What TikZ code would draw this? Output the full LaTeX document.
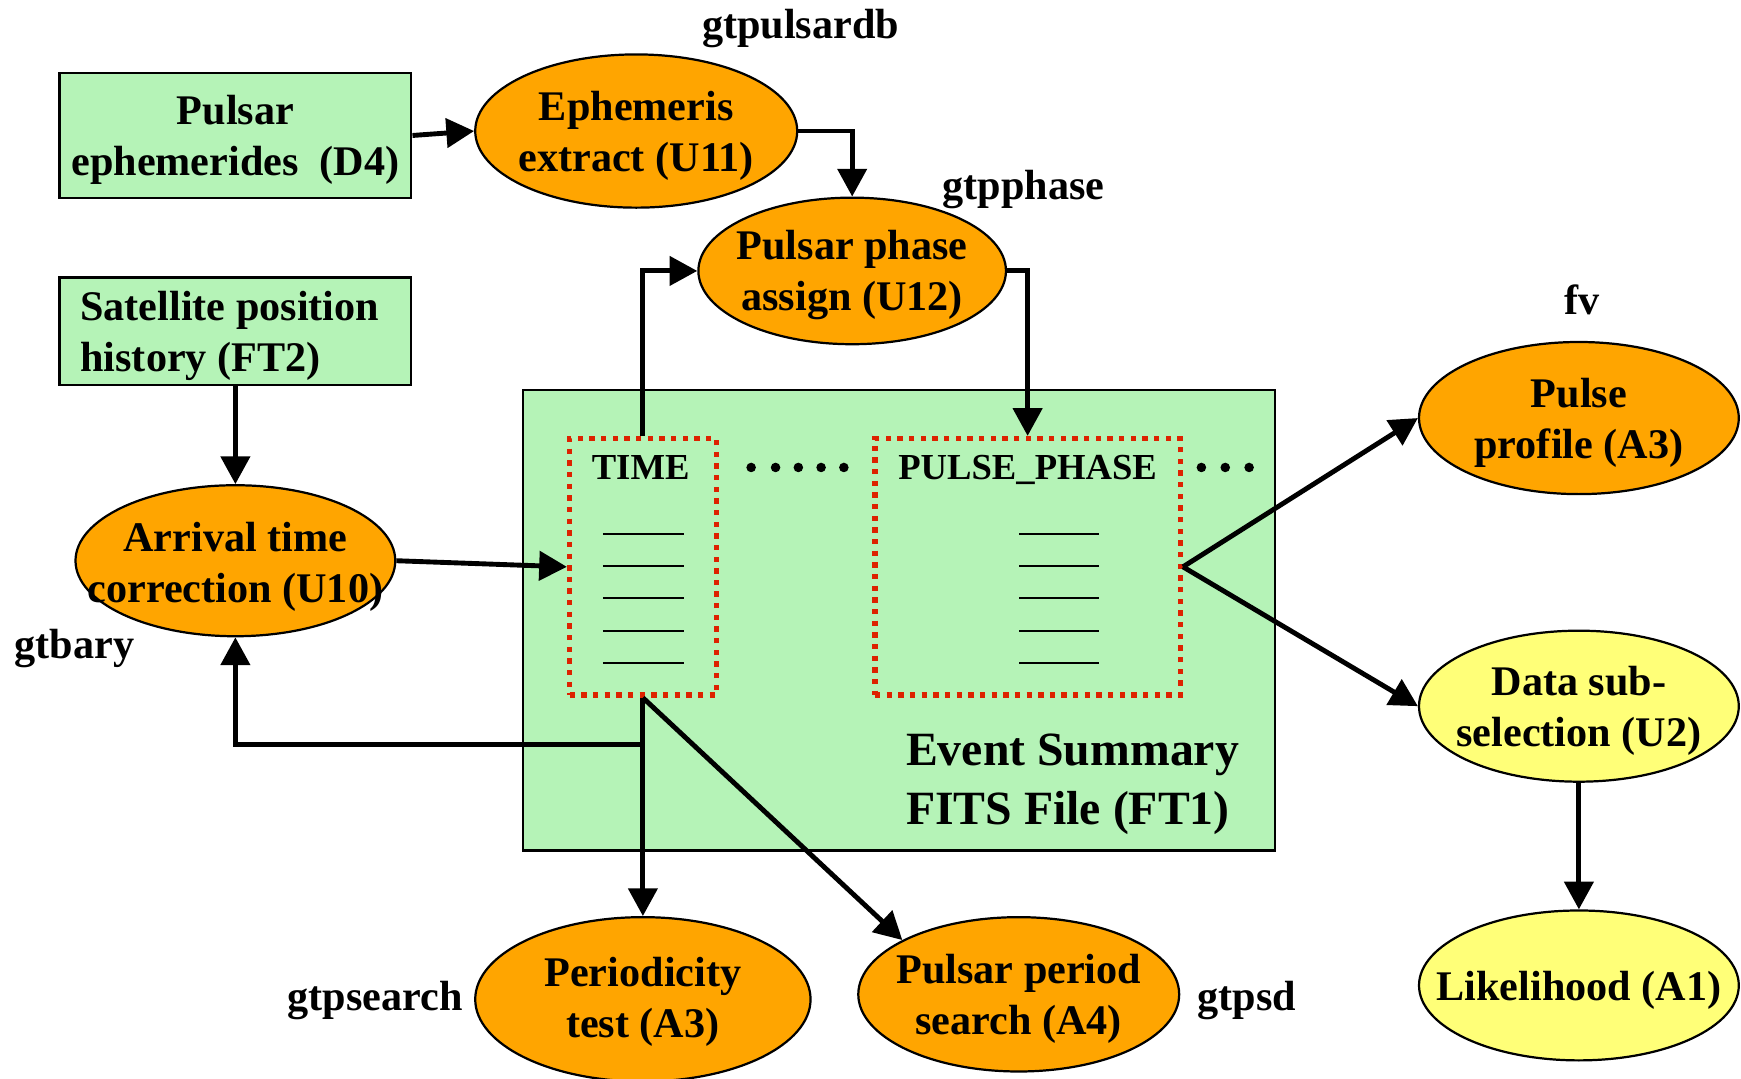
\documentclass[tikz,border=0pt]{standalone}
\usepackage{fontspec}
\setmainfont{Liberation Serif}
\usetikzlibrary{arrows.meta,shapes.geometric}
\definecolor{boxgreen}{RGB}{181,243,183}
\definecolor{ellorange}{RGB}{255,165,0}
\definecolor{ellyellow}{RGB}{255,255,120}
\definecolor{dotred}{RGB}{221,34,0}
\begin{document}
\begin{tikzpicture}[x=0.5pt,y=-0.5pt,
  every node/.style={font=\bfseries\fontsize{19}{23}\selectfont},
  greenbox/.style={draw=black, line width=1pt, fill=boxgreen, rectangle, inner sep=0pt},
  procell/.style={draw=black, line width=1pt, ellipse, inner sep=0pt, fill=ellorange},
  selell/.style={procell, fill=ellyellow},
  lbl/.style={align=center, inner sep=0pt, yshift=-2pt},
  conn/.style={line width=2.2pt, -{Triangle[length=12.5pt,width=13pt]}},
  column/.style={draw=dotred, line width=2.4pt, dash pattern=on 2.4pt off 2.85pt, rectangle, inner sep=0pt},
  rowline/.style={line width=0.9pt},
  tool/.style={inner sep=0pt, yshift=-2pt},
  collbl/.style={inner sep=0pt, anchor=base, font=\bfseries\fontsize{16.5}{20}\selectfont}
]
\useasboundingbox (0,0) rectangle (1568,971);

% boxes
\node[greenbox, minimum width=158.5pt, minimum height=56pt] (ephdb) at (212,122) {};
\node[lbl] (ephdbt) at (ephdb) {Pulsar\\ephemerides\ \ (D4)};
\node[greenbox, minimum width=158.5pt, minimum height=48.5pt] (sat) at (212,298.5) {};
\node[lbl, align=left, anchor=west] (satt) at (72,298.5) {Satellite position\\history (FT2)};
\node[greenbox, minimum width=338.5pt, minimum height=207.5pt] (ft1) at (809.5,558.5) {};

% columns
\node[column, minimum width=66pt, minimum height=115.5pt] (tcol) at (579,510.5) {};
\node[column, minimum width=137.5pt, minimum height=115.5pt] (pcol) at (925.5,510.5) {};
\node[collbl] (tlab) at (577,432) {TIME};
\node[collbl] (plab) at (925.5,432) {PULSE\_PHASE};
\foreach \yy in {481,510,539,568,597} {
  \draw[rowline] (543,\yy) -- (616,\yy);
  \draw[rowline] (918,\yy) -- (990,\yy);
}
\foreach \xx in {676.5,698.5,719,739.5,760} \fill (\xx,421) circle[radius=4.3];
\foreach \xx in {1082,1103.5,1125} \fill (\xx,421) circle[radius=4.3];
\node[lbl, align=left, font=\bfseries\fontsize{21.5}{26.5}\selectfont] (ft1lab) at (966,702) {Event Summary\\FITS File (FT1)};

% ellipses
\node[procell, minimum width=145pt, minimum height=69pt] (ext) at (573,118) {};
\node[lbl] (extt) at (ext) {Ephemeris\\extract (U11)};
\node[procell, minimum width=138.5pt, minimum height=66pt] (pha) at (767.5,244) {};
\node[lbl] (phat) at (pha) {Pulsar phase\\assign (U12)};
\node[procell, minimum width=144pt, minimum height=68pt] (arr) at (212,505) {};
\node[lbl] (arrt) at (212,506.5) {Arrival time\\correction (U10)};
\node[procell, minimum width=151pt, minimum height=74pt] (per) at (579,900) {};
\node[lbl] (pert) at (579,898) {Periodicity\\test (A3)};
\node[procell, minimum width=144.5pt, minimum height=69.5pt] (psd) at (917.5,895.5) {};
\node[lbl] (psdt) at (psd) {Pulsar period\\search (A4)};
\node[procell, minimum width=144pt, minimum height=68.5pt] (prof) at (1422,376.5) {};
\node[lbl] (proft) at (prof) {Pulse\\profile (A3)};
\node[selell, minimum width=144pt, minimum height=68pt] (sub) at (1422,636) {};
\node[lbl] (subt) at (sub) {Data sub-\\selection (U2)};
\node[selell, minimum width=144pt, minimum height=67.5pt] (like) at (1422,887.5) {};
\node[lbl] (liket) at (like) {Likelihood (A1)};

% tool labels
\node[tool] (l1) at (721,22) {gtpulsardb};
\node[tool] (l2) at (922,167) {gtpphase};
\node[tool] (l3) at (67,580) {gtbary};
\node[tool] (l4) at (1425,266) {fv};
\node[tool] (l5) at (338,897) {gtpsearch};
\node[tool] (l6) at (1123,897) {gtpsd};

% connectors
\draw[conn] (ephdb.east) -- (ext.west);
\draw[conn] (ext.east) -| (pha.north);
\draw[conn] (tcol.north) |- (pha.west);
\draw[conn] (pha.east) -| (pcol.north);
\draw[conn] (sat.south) -- (arr.north);
\draw[conn] (arr.east) -- (tcol.west);
\draw[conn] (tcol.south) -- ++(0,42) -| (arr.south);
\draw[conn] (tcol.south) -- (per.north);
\draw[conn] (tcol.south) -- (psd.155);
\draw[conn] (pcol.east) -- (prof.west);
\draw[conn] (pcol.east) -- (sub.west);
\draw[conn] (sub.south) -- (like.north);
\end{tikzpicture}
\end{document}
